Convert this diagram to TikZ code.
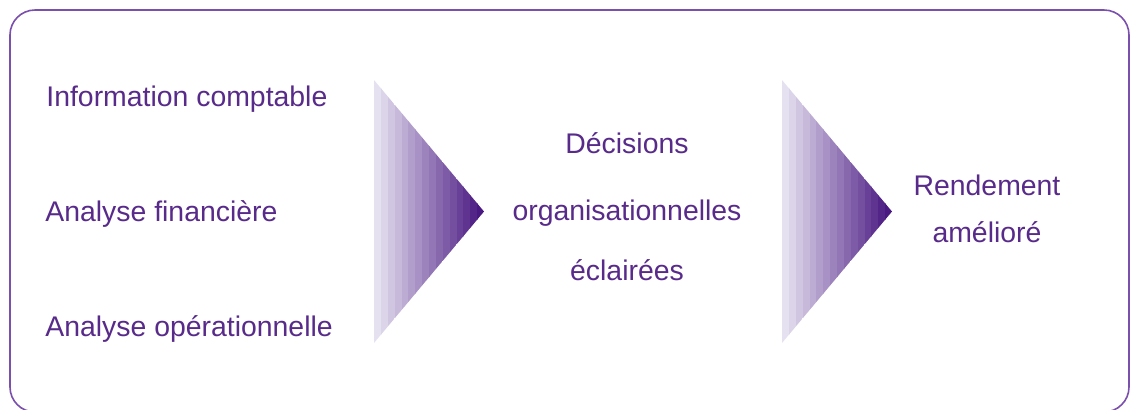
\documentclass[tikz,border=0pt]{standalone}
\usepackage{fontspec}
\setmainfont{Liberation Sans}
\definecolor{txtpurple}{HTML}{582A8A}
\definecolor{framepurple}{HTML}{7A4FAE}
\definecolor{lightpurple}{HTML}{E6E1F0}
\definecolor{darkpurple}{HTML}{4A1881}
% banded arrow head, #1 = left x
\newcommand\bandarrow[1]{%
\begin{scope}
\clip (#1,80)--(#1,343)--(#1+110,211.5)--cycle;
\foreach \k in {0,...,15}{
  \pgfmathsetmacro\pc{100-\k*100/15}
  \fill[lightpurple!\pc!darkpurple] (#1+\k*110/16,75) rectangle (#1+\k*110/16+7.5,350);
}
\end{scope}}

\begin{document}
\begin{tikzpicture}[x=0.5pt,y=-0.5pt,
  lbl/.style={text=txtpurple,inner sep=0pt,font=\fontsize{14.2}{17}\selectfont}]
\useasboundingbox (0,0) rectangle (1131,409);
\draw[framepurple,line width=0.8pt,rounded corners=12.5pt] (10,10) rectangle (1129,412);
\bandarrow{374}
\bandarrow{782}
\node[lbl,anchor=base west] (info) at (46,106) {Information comptable};
\node[lbl,anchor=base west] (fin) at (45,221) {Analyse financière};
\node[lbl,anchor=base west] (oper) at (45,336) {Analyse opérationnelle};
\node[lbl,anchor=base] (dec1) at (627,153) {Décisions};
\node[lbl,anchor=base] (dec2) at (627,220) {organisationnelles};
\node[lbl,anchor=base] (dec3) at (627,280) {éclairées};
\node[lbl,anchor=base] (rend1) at (987,195) {Rendement};
\node[lbl,anchor=base] (rend2) at (987,242) {amélioré};
\end{tikzpicture}
\end{document}
